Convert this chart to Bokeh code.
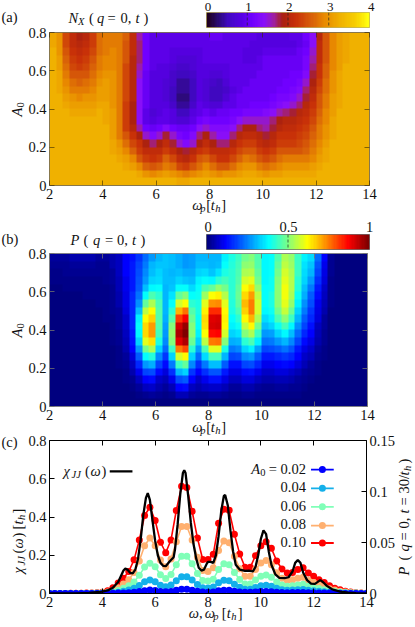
import math
import numpy as np
from bokeh.embed import file_html
from bokeh.resources import INLINE
from bokeh.layouts import column
from bokeh.plotting import figure
from bokeh.models import (Range1d, LinearAxis, FixedTicker, LinearColorMapper, Label, Span)

FONT = "Liberation Serif"

# N_X in tenths, rows from A0=0.78 down to A0=0.02, columns 2.0..14.0 in steps of 0.25
NX_ROWS = [
[32,30,24,21,19,20,23,27,28,28,28,26,21,16,11,9,9,9,9,9,9,9,9,9,10,10,9,9,9,9,9,8,8,8,8,8,9,9,11,14,20,25,29,31,32,33,33,33],
[32,30,24,21,20,21,23,27,28,28,28,25,21,17,11,9,9,9,9,9,9,9,9,9,9,9,9,9,9,9,8,8,8,8,8,8,8,9,10,14,21,25,29,31,32,33,33,33],
[33,30,25,22,21,22,24,27,28,29,28,25,21,17,11,9,9,9,8,8,8,8,8,9,9,9,9,9,9,8,8,8,9,9,9,9,9,10,11,15,21,25,29,31,32,33,33,33],
[33,31,26,23,22,23,25,28,29,29,28,25,20,17,11,9,9,9,8,7,7,7,8,9,9,9,9,9,9,8,8,9,10,10,10,10,10,10,12,16,21,25,29,31,32,33,33,33],
[33,31,27,24,23,24,26,28,29,29,28,24,20,16,11,9,8,8,7,6,6,7,8,8,8,8,8,9,9,9,9,9,10,10,10,10,10,10,12,17,22,26,29,31,33,33,33,33],
[33,32,28,25,25,25,27,29,30,30,28,24,20,15,10,8,8,8,6,5,5,6,8,8,7,7,8,9,9,9,9,10,10,10,10,10,11,11,13,18,22,26,30,32,33,33,33,33],
[33,32,29,27,26,27,28,30,31,30,28,24,20,14,10,8,8,7,6,4,4,5,8,7,6,5,7,9,9,9,10,10,10,10,10,11,11,12,15,19,23,27,30,32,33,33,33,33],
[33,32,30,28,28,28,29,31,31,30,28,24,20,14,10,8,8,7,5,4,4,5,8,7,5,5,6,8,9,10,10,10,10,10,11,11,12,13,17,20,24,27,30,32,33,33,33,33],
[33,33,31,30,29,30,30,31,31,30,28,24,20,14,10,8,8,7,5,3,3,5,8,7,5,5,7,9,10,10,10,10,10,11,12,12,13,15,18,21,25,28,31,32,33,33,33,33],
[33,33,32,31,31,31,31,32,32,30,28,23,19,14,10,8,8,8,6,4,4,6,9,8,7,7,9,9,10,10,11,11,11,12,13,14,15,17,20,22,25,28,31,32,33,33,33,33],
[33,33,33,32,32,32,32,33,32,31,28,23,19,14,9,7,8,9,8,5,5,8,9,10,9,10,10,11,11,12,12,12,13,14,16,17,18,20,21,23,26,29,31,33,33,33,33,33],
[33,33,33,33,33,33,33,33,32,31,28,23,19,14,9,8,9,9,8,7,7,9,11,12,11,11,11,12,14,15,15,15,15,17,19,20,20,21,22,24,27,29,32,33,33,33,33,33],
[33,33,33,33,33,33,33,33,33,31,28,23,20,16,11,10,11,13,11,10,10,11,14,15,13,13,13,14,17,19,19,17,16,18,20,21,21,22,23,25,28,30,32,33,33,33,33,33],
[33,33,33,33,33,33,33,33,33,31,28,25,22,19,15,13,15,18,15,12,11,13,17,19,16,14,14,17,20,21,21,20,18,20,22,22,22,23,24,26,28,30,32,33,33,33,33,33],
[33,33,33,33,33,33,33,33,33,32,30,27,24,22,19,17,19,21,18,15,13,15,19,21,19,17,17,20,22,23,23,21,20,21,23,23,23,24,25,27,29,31,33,33,33,33,33,33],
[33,33,33,33,33,33,33,33,33,32,31,29,26,23,21,21,21,23,21,19,18,20,22,23,21,21,21,22,24,25,25,23,22,23,25,25,25,25,26,28,30,32,33,33,33,33,33,33],
[33,33,33,33,33,33,33,33,33,33,32,31,29,25,23,22,23,26,24,21,20,22,25,26,24,22,22,24,26,28,27,25,24,25,27,28,28,28,28,29,31,32,33,33,33,33,33,33],
[33,33,33,33,33,33,33,33,33,33,33,32,31,29,26,25,26,28,27,24,23,25,27,29,27,25,25,27,29,30,30,28,27,28,29,30,30,30,30,31,32,33,33,33,33,33,33,33],
[33,33,33,33,33,33,33,33,33,33,33,33,33,32,30,29,30,31,30,29,28,29,30,31,30,29,30,30,31,32,32,31,30,31,31,32,32,32,32,32,33,33,33,33,33,33,33,33],
[33,33,33,33,33,33,33,33,33,33,33,33,33,33,33,33,33,33,33,32,32,33,33,33,33,33,33,33,33,33,33,33,33,33,33,33,33,33,33,33,33,33,33,33,33,33,33,33],
]

# P in percent, same grid
P_ROWS = [
[3,3,3,4,4,4,4,3,3,4,6,11,13,17,22,27,30,32,31,29,27,28,30,30,30,30,36,40,43,49,50,46,37,38,46,54,52,43,36,34,22,11,2,0,0,0,0,0],
[2,2,2,3,3,3,3,2,2,4,6,11,14,18,24,30,32,32,31,29,27,28,31,31,30,31,38,41,44,51,52,46,37,38,47,56,53,43,35,32,20,10,2,0,0,0,0,0],
[1,1,2,2,2,2,2,2,2,3,6,11,14,19,25,31,33,31,30,31,29,29,33,34,32,35,40,42,45,54,55,47,37,38,49,58,54,43,34,30,18,9,2,0,0,0,0,0],
[1,1,1,1,1,1,1,1,2,3,5,10,14,20,27,33,34,31,31,33,32,31,36,38,37,42,44,42,46,58,60,49,37,39,50,60,55,42,33,27,16,8,1,0,0,0,0,0],
[0,0,1,1,1,1,1,1,1,2,5,10,14,21,31,37,38,30,32,38,38,34,38,45,47,52,49,42,47,62,66,52,38,39,51,61,55,41,31,24,14,7,1,0,0,0,0,0],
[0,0,0,0,0,1,1,1,1,2,4,9,15,23,38,45,42,30,35,47,50,38,39,53,62,64,55,42,48,66,72,56,38,40,51,61,54,39,29,21,12,6,1,0,0,0,0,0],
[0,0,0,0,0,0,0,1,1,2,4,9,15,26,47,54,45,30,38,58,62,42,40,60,73,74,60,41,47,69,75,58,38,40,51,60,52,36,26,19,10,5,1,0,0,0,0,0],
[0,0,0,0,0,0,0,0,1,2,3,8,15,31,56,62,46,30,42,70,76,46,40,64,83,83,63,40,45,67,75,58,37,39,49,57,48,33,24,17,9,4,0,0,0,0,0,0],
[0,0,0,0,0,0,0,0,1,1,3,7,15,36,62,67,46,29,46,82,88,48,39,66,90,91,64,38,42,63,70,54,34,36,45,51,43,30,21,15,8,3,0,0,0,0,0,0],
[0,0,0,0,0,0,0,0,0,1,3,7,15,38,66,72,46,28,50,92,97,50,38,65,91,92,63,36,39,57,63,49,31,33,39,44,37,26,18,13,6,3,0,0,0,0,0,0],
[0,0,0,0,0,0,0,0,0,1,2,6,14,37,66,72,44,27,52,95,100,51,36,62,86,87,58,33,35,50,54,43,27,28,33,37,31,22,15,11,5,2,0,0,0,0,0,0],
[0,0,0,0,0,0,0,0,0,1,2,5,13,33,60,65,40,25,50,90,95,48,33,56,75,76,50,29,30,42,45,36,23,24,27,30,25,18,12,9,4,2,0,0,0,0,0,0],
[0,0,0,0,0,0,0,0,0,0,1,4,11,27,49,54,33,22,43,75,80,42,28,45,60,60,40,24,25,33,36,28,18,19,21,23,20,14,9,7,3,1,0,0,0,0,0,0],
[0,0,0,0,0,0,0,0,0,0,1,3,8,21,38,41,25,17,33,58,63,33,22,34,44,44,30,18,19,25,27,21,14,14,15,17,15,11,7,5,2,1,0,0,0,0,0,0],
[0,0,0,0,0,0,0,0,0,0,1,2,6,15,27,29,18,12,24,43,47,25,16,24,31,31,21,13,13,18,19,15,10,10,11,12,11,8,5,3,1,0,0,0,0,0,0,0],
[0,0,0,0,0,0,0,0,0,0,0,1,4,10,18,19,12,8,16,30,33,17,11,16,20,20,14,9,9,12,13,10,7,7,8,8,7,5,3,2,1,0,0,0,0,0,0,0],
[0,0,0,0,0,0,0,0,0,0,0,1,2,6,11,12,7,5,10,19,21,11,7,10,13,13,9,6,6,8,8,6,4,4,5,5,4,3,2,1,0,0,0,0,0,0,0,0],
[0,0,0,0,0,0,0,0,0,0,0,0,1,3,6,7,4,3,5,11,12,6,4,6,7,7,5,3,3,4,4,3,2,2,3,3,2,2,1,0,0,0,0,0,0,0,0,0],
[0,0,0,0,0,0,0,0,0,0,0,0,0,1,2,3,2,1,2,5,5,3,2,2,3,3,2,1,1,2,2,1,1,1,1,1,1,1,0,0,0,0,0,0,0,0,0,0],
[0,0,0,0,0,0,0,0,0,0,0,0,0,0,0,0,0,0,0,0,0,0,0,0,0,0,0,0,0,0,0,0,0,0,0,0,0,0,0,0,0,0,0,0,0,0,0,0],
]

# panel (c): P(q=0) expressed on the left axis scale; omega_p = 2.0..14.0 in steps of 0.2
OMEGA_P = [round(2 + 0.2 * i, 1) for i in range(61)]
P_A010 = [0,0,0,0,.001,.001,.001,.002,.002,.004,.007,.015,.03,.055,.08,.115,.176,.28,.408,.451,.382,.268,.213,.28,.434,.561,.554,.43,.29,.178,.178,.205,.367,.44,.435,.31,.207,.137,.137,.198,.25,.27,.236,.17,.128,.107,.11,.125,.135,.107,.09,.072,.058,.04,.028,.02,.012,.008,.004,.002,.001]
P_A008 = [0,0,0,0,0,0,.001,.001,.001,.002,.004,.008,.015,.03,.05,.072,.11,.17,.25,.29,.25,.175,.14,.18,.27,.35,.35,.28,.19,.12,.115,.135,.225,.275,.265,.195,.13,.09,.09,.125,.16,.172,.15,.108,.08,.068,.072,.08,.085,.068,.058,.046,.036,.025,.018,.012,.008,.005,.003,.001,.001]
P_A006 = [0,0,0,0,0,0,0,0,.001,.001,.002,.004,.008,.016,.027,.04,.06,.095,.138,.158,.14,.098,.078,.1,.15,.195,.195,.155,.105,.068,.065,.075,.125,.155,.15,.11,.073,.05,.05,.07,.09,.097,.085,.06,.045,.038,.04,.045,.048,.038,.032,.026,.02,.014,.01,.007,.004,.003,.002,.001,0]
P_A004 = [0,0,0,0,0,0,0,0,0,.001,.001,.002,.004,.007,.012,.018,.027,.042,.061,.07,.062,.043,.035,.045,.067,.087,.087,.07,.047,.03,.029,.034,.056,.069,.067,.049,.033,.022,.022,.031,.04,.043,.038,.027,.02,.017,.018,.02,.021,.017,.014,.012,.009,.006,.004,.003,.002,.001,.001,0,0]
P_A002 = [0,0,0,0,0,0,0,0,0,0,0,.001,.001,.002,.003,.004,.007,.01,.015,.018,.016,.011,.009,.011,.017,.022,.022,.017,.012,.008,.007,.008,.014,.017,.017,.012,.008,.006,.006,.008,.01,.011,.009,.007,.005,.004,.005,.005,.005,.004,.004,.003,.002,.002,.001,.001,0,0,0,0,0]

CHI_W = [2,3,3.5,4,4.2,4.4,4.6,4.7,4.8,4.87,4.95,5.05,5.15,5.25,5.35,5.45,5.55,5.65,5.72,5.8,5.9,6,6.1,6.2,6.3,6.4,6.5,6.6,6.7,6.75,6.85,6.95,7.05,7.1,7.15,7.25,7.35,7.45,7.55,7.65,7.75,7.85,7.95,8,8.1,8.2,8.3,8.4,8.5,8.6,8.65,8.75,8.85,8.95,9.05,9.2,9.4,9.55,9.7,9.8,9.9,10,10.1,10.2,10.3,10.4,10.55,10.7,10.9,11.05,11.2,11.3,11.4,11.5,11.6,11.75,11.9,12.05,12.25,12.35,12.5,12.7,13,13.3,13.6,14]
CHI_V = [0,.001,.003,.01,.016,.03,.06,.09,.12,.13,.125,.108,.105,.125,.18,.28,.41,.5,.525,.49,.38,.275,.2,.16,.145,.143,.16,.175,.19,.23,.36,.52,.63,.645,.63,.51,.37,.26,.185,.135,.12,.125,.155,.165,.165,.16,.2,.3,.43,.51,.515,.46,.33,.22,.15,.125,.118,.12,.115,.14,.2,.285,.33,.31,.22,.15,.1,.082,.08,.085,.115,.16,.175,.16,.11,.07,.052,.05,.07,.06,.04,.022,.01,.004,.002,0]

X_TICKS = [2, 4, 6, 8, 10, 12, 14]
A_TICKS = [0, 0.2, 0.4, 0.6, 0.8]
CHI_TICKS = [0, 0.2, 0.4, 0.6, 0.8]
P_TICKS = [0, 0.05, 0.1, 0.15]
LEGEND = ["0.02", "0.04", "0.06", "0.08", "0.10"]
COLORS = ["#0000ff", "#14b0ea", "#80ffb8", "#ffb070", "#ff0000"]

NX_STOPS = [(0,"#200020"),(.25,"#2a0a70"),(.5,"#4008c0"),(.8,"#5500e0"),(1.1,"#7000ff"),(1.4,"#8a10f8"),(1.65,"#a02098"),(1.85,"#a82010"),(2.2,"#c83008"),(2.6,"#d86008"),(2.9,"#e88800"),(3.3,"#f0b000"),(3.7,"#f8d000"),(4,"#ffff10")]
JET_STOPS = [(0,"#00007f"),(.11,"#0000ff"),(.375,"#00ffff"),(.625,"#ffff00"),(.875,"#ff0000"),(1,"#7f0000")]


def palette(stops, vmax, n=128):
    xs = [s[0] for s in stops]
    rgb = [[int(s[1][i:i+2], 16) for i in (1, 3, 5)] for s in stops]
    t = np.linspace(0, vmax, n)
    chans = [np.interp(t, xs, [c[k] for c in rgb]) for k in range(3)]
    return ["#%02x%02x%02x" % tuple(int(round(c[i])) for c in chans) for i in range(n)]


NX_MAP = LinearColorMapper(palette=palette(NX_STOPS, 4), low=0, high=4)
P_MAP = LinearColorMapper(palette=palette(JET_STOPS, 1), low=0, high=1)

PAGE_W, PAGE_H = 415, 627
# transparent sheet over the whole page that carries the texts lying outside the plot frames
sheet = figure(width=PAGE_W, height=PAGE_H, x_range=Range1d(0, PAGE_W), y_range=Range1d(PAGE_H, 0),
               min_border=0, toolbar_location=None, output_backend="svg", frame_align=False, margin=(-PAGE_H, 0, 0, 0))
sheet.axis.visible = False
sheet.grid.visible = False
sheet.outline_line_color = None
sheet.border_fill_alpha = 0
sheet.background_fill_color = None


def rich(X, Y, pieces, vertical=False, align="left"):
    """pieces: (text, offset along the baseline, size, italic, shift below baseline); X,Y page px of the baseline."""
    for txt, off, size, ital, dy in pieces:
        lift = 0.34 * size  # the browser sets Label text this much below its nominal baseline
        if vertical:
            px, py = X + dy - lift, Y - off
        else:
            px, py = X + off, Y + dy - lift
        sheet.add_layout(Label(x=px, y=py, text=txt, text_font=FONT, text_font_size=f"{size}px",
                               text_font_style="italic" if ital else "normal",
                               text_color="#111111", text_align=align, text_baseline="alphabetic",
                               angle=math.pi / 2 if vertical else 0, angle_units="rad"))


def blank_axis(ticks, line_color, line_alpha):
    return LinearAxis(ticker=FixedTicker(ticks=ticks), major_label_overrides={t: "" for t in ticks},
                      major_label_text_font_size="1px", major_tick_in=5, major_tick_out=0,
                      minor_tick_line_color=None, axis_line_color=line_color, axis_line_alpha=line_alpha,
                      major_tick_line_color=line_color, major_tick_line_alpha=line_alpha, major_label_standoff=0)


def panel(height, top, bottom, right, y_range, y_ticks, line_color, line_alpha, margin=None):
    p = figure(width=PAGE_W, height=height, x_range=Range1d(2, 14), y_range=y_range,
               min_border_left=49, min_border_right=right, min_border_top=top, min_border_bottom=bottom,
               toolbar_location=None, output_backend="svg", x_axis_location="below", frame_align=False)
    if margin is not None:
        p.margin = margin
    p.xgrid.visible = False
    p.ygrid.visible = False
    p.outline_line_color = None
    p.border_fill_alpha = 0
    p.background_fill_color = None
    for ax, ticks in ((p.xaxis[0], X_TICKS), (p.yaxis[0], y_ticks)):
        ax.ticker = FixedTicker(ticks=ticks)
        ax.major_label_overrides = {t: f"{t:g}" for t in ticks}
        ax.major_label_text_font = FONT
        ax.major_label_text_font_size = "14.5px"
        ax.major_label_text_color = "#111111"
        ax.major_tick_in = 5
        ax.major_tick_out = 0
        ax.minor_tick_line_color = None
        ax.axis_line_color = line_color
        ax.axis_line_alpha = line_alpha
        ax.major_tick_line_color = line_color
        ax.major_tick_line_alpha = line_alpha
        ax.major_label_standoff = 3
    p.add_layout(blank_axis(X_TICKS, line_color, line_alpha), "above")
    return p


def strip(height, top, right, vmax, mapper, ticks, edge):
    p = figure(width=PAGE_W, height=height, x_range=Range1d(0, vmax), y_range=Range1d(0, 1),
               min_border_left=206, min_border_right=right, min_border_top=top, min_border_bottom=2,
               toolbar_location=None, output_backend="svg", frame_align=False)
    p.axis.visible = False
    p.grid.visible = False
    p.border_fill_alpha = 0
    p.background_fill_color = None
    p.outline_line_color = edge
    p.outline_line_alpha = 0.7
    p.image(image=[np.linspace(0, vmax, 64).reshape(1, -1)], x=0, y=0, dw=vmax, dh=1, color_mapper=mapper)
    for t in ticks:
        if 0 < t < vmax:
            p.add_layout(Span(location=t, dimension="height", line_color="#222222", line_dash="3 2", line_width=1, line_alpha=0.7))
    return p


ROM = 14.5
SUB = 10.5

# ---------- panel (a) ----------
strip_a = strip(29, 12, 46, 4, NX_MAP, [0, 1, 2, 3, 4], "#a09020")
for lab, lx in zip(["0", "1", "2", "3", "4"], [207.5, 248, 288.7, 329.7, 370.7]):
    rich(lx, 11, [(lab, 0, 13, False, 0)], align="center")
rich(1, 21, [("(a)", 0, ROM, False, 0)])
rich(68, 22, [("N", 0, ROM, True, 0), ("X", 9.5, SUB, True, 3), ("(", 20.5, ROM, False, 0), ("q", 28.5, ROM, True, 0),
              ("=", 39, ROM, False, 0), ("0,", 52, ROM, False, 0), ("t", 67, ROM, True, 0), (")", 75, ROM, False, 0)])

nx = np.array(NX_ROWS, dtype=float)[::-1] / 10
pa = panel(198, 12, 33, 46, Range1d(0, 0.8), A_TICKS, "#3a2a00", 0.6, margin=(-9, 0, 0, 0))
pa.image(image=[nx], x=2, y=0, dw=12, dh=0.8, color_mapper=NX_MAP)
pa.add_layout(blank_axis(A_TICKS, "#3a2a00", 0.6), "right")
rich(191.7, 209, [("ω", 0, ROM, True, 0), ("p", 8, SUB, True, 3), ("[", 14, ROM, False, 0), ("t", 18.5, ROM, True, 0),
                  ("h", 23, SUB, True, 3), ("]", 29, ROM, False, 0)])
rich(21, 116, [("A", 0, ROM, True, 0), ("0", 9, SUB, False, 3)], vertical=True)

# ---------- panel (b) ----------
strip_b = strip(33, 16, 46, 1, P_MAP, [0, 0.5, 1], "#303030")
for lab, lx in zip(["0", "0.5", "1"], [207.5, 288, 369]):
    rich(lx, 231, [(lab, 0, ROM, False, 0)], align="center")
rich(1, 243, [("(b)", 0, ROM, False, 0)])
rich(70, 244, [("P", 0, ROM, True, 0), ("(", 13, ROM, False, 0), ("q", 22.5, ROM, True, 0),
               ("=", 34.5, ROM, False, 0), ("0,", 46.5, ROM, False, 0), ("t", 61.5, ROM, True, 0), (")", 70, ROM, False, 0)])

pv = np.array(P_ROWS, dtype=float)[::-1] / 100
pb = panel(200, 13, 34, 48, Range1d(0, 0.8), A_TICKS, "#707070", 0.8, margin=(-11, 0, 0, 0))
pb.image(image=[pv], x=2, y=0, dw=12, dh=0.8, color_mapper=P_MAP)
pb.add_layout(blank_axis(A_TICKS, "#707070", 0.8), "right")
rich(191.7, 431, [("ω", 0, ROM, True, 0), ("p", 8, SUB, True, 3), ("[", 14, ROM, False, 0), ("t", 18.5, ROM, True, 0),
                  ("h", 23, SUB, True, 3), ("]", 29, ROM, False, 0)])
rich(21, 337, [("A", 0, ROM, True, 0), ("0", 9, SUB, False, 3)], vertical=True)

# ---------- panel (c) ----------
pc = panel(197, 10, 34, 49, Range1d(0, 0.8), CHI_TICKS, "#000000", 1, margin=(-10, 0, 0, 0))
pc.extra_y_ranges = {"p": Range1d(0, 0.15)}
rax = LinearAxis(y_range_name="p", ticker=FixedTicker(ticks=P_TICKS), major_label_overrides={t: f"{t:g}" for t in P_TICKS},
                 major_label_text_font=FONT, major_label_text_font_size="14.5px", major_label_text_color="#111111",
                 major_tick_in=5, major_tick_out=0, minor_tick_line_color=None, major_label_standoff=3)
pc.add_layout(rax, "right")

SERIES = [P_A010, P_A008, P_A006, P_A004, P_A002]
S_COLORS = COLORS[::-1]
KEY_Y = [0.648, 0.55, 0.453, 0.355, 0.264]
for vals, col in zip(SERIES, S_COLORS):
    pc.line(OMEGA_P, vals, line_color=col, line_width=1.6)
    pc.scatter(OMEGA_P, vals, size=7, marker="circle", fill_color=col, line_color=col, line_width=0)
pc.line(CHI_W, CHI_V, line_color="#000000", line_width=2.3)

for ky, col in zip(KEY_Y, COLORS):
    pc.line([11.9, 12.76], [ky, ky], line_color=col, line_width=1.8)
    pc.scatter([12.33], [ky], size=7, marker="circle", fill_color=col, line_color=col, line_width=0)
pc.line([4.28, 5.14], [0.639, 0.639], line_color="#000000", line_width=2.3)

rich(1, 446, [("(c)", 0, ROM, False, 0)])
rich(63, 475, [("χ", 0, ROM, True, 0), ("JJ", 8, SUB, True, 3), ("(", 21.5, ROM, False, 0), ("ω", 27, ROM, True, 0), (")", 38, ROM, False, 0)])
rich(250.7, 473, [("A", 0, ROM, True, 0), ("0", 9, SUB, False, 3), ("= 0.02", 17.5, ROM, False, 0)])
for lab, ly in zip(LEGEND[1:], [491.7, 510, 528.3, 546.7]):
    rich(280, ly, [(lab, 0, ROM, False, 0)])
rich(188.3, 617, [("ω,", 0, ROM, True, 0), ("ω", 16, ROM, True, 0), ("p", 24.5, SUB, True, 3), ("[", 33, ROM, False, 0),
                  ("t", 38, ROM, True, 0), ("h", 42.5, SUB, True, 3), ("]", 49, ROM, False, 0)])
rich(22, 573, [("χ", 0, ROM, True, 0), ("JJ", 8, SUB, True, 3), ("(", 20, ROM, False, 0), ("ω", 25, ROM, True, 0), (")", 36, ROM, False, 0),
               ("[", 44, ROM, False, 0), ("t", 49, ROM, True, 0), ("h", 53.5, SUB, True, 3), ("]", 60, ROM, False, 0)], vertical=True)
rich(408, 575, [("P", 0, ROM, True, 0), ("(", 15, ROM, False, 0), ("q", 24, ROM, True, 0), ("=", 35, ROM, False, 0),
                ("0,", 47, ROM, False, 0), ("t", 62, ROM, True, 0), ("=", 70, ROM, False, 0), ("30/", 82, ROM, False, 0),
                ("t", 100, ROM, True, 0), ("h", 104.5, SUB, True, 3), (")", 112, ROM, False, 0)], vertical=True)

page = column(strip_a, pa, strip_b, pb, pc, sheet, spacing=0, margin=0)
open("out.html", "w").write(file_html(page, INLINE))
